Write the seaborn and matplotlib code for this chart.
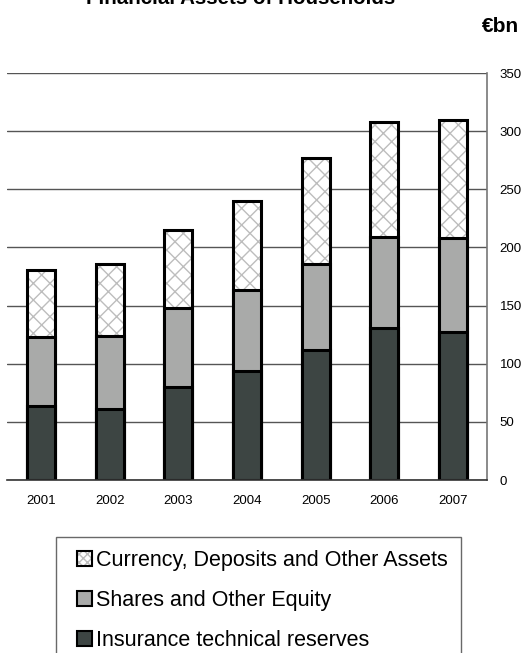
import matplotlib
matplotlib.use("Agg")
import matplotlib.pyplot as plt
from matplotlib.patches import Patch, Rectangle
from matplotlib.legend_handler import HandlerPatch
import numpy as np
import pandas as pd
import seaborn as sns

# Financial Assets of Households, €bn
years = ["2001", "2002", "2003", "2004", "2005", "2006", "2007"]
insurance = [64, 61, 80, 94, 112, 131, 127]
shares = [59, 63, 68, 69, 74, 78, 81]
currency = [58, 62, 67, 77, 91, 99, 102]
labels = ["Currency, Deposits and Other Assets",
          "Shares and Other Equity",
          "Insurance technical reserves"]

sns.set_style("white")
plt.rcParams["font.family"] = ["Liberation Sans", "DejaVu Sans"]
plt.rcParams["hatch.linewidth"] = 1.0
plt.rcParams["text.color"] = "black"
plt.rcParams["xtick.color"] = "black"
plt.rcParams["ytick.color"] = "black"

dark = "#3d4543"
mid = "#a9aaa9"
hatch_grey = "#bdbdbd"

df = pd.DataFrame({"year": years, "insurance": insurance,
                   "shares": shares, "currency": currency})
df["lvl2"] = df["insurance"] + df["shares"]
df["total"] = df["lvl2"] + df["currency"]

fig = plt.figure(figsize=(5.29, 6.53), dpi=100)
ax = fig.add_axes([0.0132, 0.2649, 0.9074, 0.6233])

# gridlines behind bars
ax.set_axisbelow(True)
ax.yaxis.grid(True, color="#555555", linewidth=1.0)

# stacked bars: cumulative totals drawn largest first
sns.barplot(data=df, x="year", y="total", color="white", width=0.41,
            edgecolor=hatch_grey, linewidth=0, saturation=1, ax=ax)
for p in ax.patches:
    p.set_hatch("xx")
sns.barplot(data=df, x="year", y="total", color="black", width=0.41,
            fill=False, linewidth=2.2, ax=ax)
sns.barplot(data=df, x="year", y="lvl2", color=mid, width=0.41,
            edgecolor="black", linewidth=2.2, saturation=1, ax=ax)
sns.barplot(data=df, x="year", y="insurance", color=dark, width=0.41,
            edgecolor="black", linewidth=2.2, saturation=1, ax=ax)

ax.set_ylim(0, 350)
ax.set_xlim(-0.5, 6.5)
ax.set_yticks(np.arange(0, 351, 50))
ax.yaxis.tick_right()
ax.tick_params(axis="y", length=0, pad=9, labelsize=9.5, labelcolor="black")
ax.tick_params(axis="x", length=0, pad=11, labelsize=9.5, labelcolor="black")
for lbl in ax.get_yticklabels():
    lbl.set_horizontalalignment("left")
ax.set_xlabel("")
ax.set_ylabel("")

for side in ["left", "top"]:
    ax.spines[side].set_visible(False)
ax.spines["right"].set_color("#777777")
ax.spines["right"].set_linewidth(1.2)
ax.spines["bottom"].set_color("#333333")
ax.spines["bottom"].set_linewidth(1.2)

fig.text(0.455, 1.003, "Financial Assets of Households", ha="center",
         va="center", fontsize=14.8, fontweight="bold")
fig.text(0.947, 0.960, "€bn", ha="center", va="center",
         fontsize=15, fontweight="bold")


def shifted_box(legend, orig_handle, xdescent, ydescent, width, height, fontsize):
    # nudge the legend swatch right a little, like the original
    return Rectangle((-xdescent + 6, -ydescent), width, height)


handles = [
    (Patch(facecolor="white", edgecolor=hatch_grey, hatch="xxxx", linewidth=0),
     Patch(fill=False, edgecolor="black", linewidth=1.5)),
    Patch(facecolor=mid, edgecolor="black", linewidth=1.5),
    Patch(facecolor=dark, edgecolor="black", linewidth=1.5),
]
leg = fig.legend(handles, labels, loc="upper left",
                 bbox_to_anchor=(0.106, 0.1776), borderaxespad=0,
                 fontsize=15.5, frameon=True, fancybox=False,
                 handlelength=0.7, handleheight=0.7, handletextpad=0.55,
                 labelspacing=0.89, borderpad=0.6,
                 handler_map={Patch: HandlerPatch(patch_func=shifted_box)})
leg.get_frame().set_edgecolor("#444444")
leg.get_frame().set_linewidth(1.0)

fig.savefig("out.png", dpi=100)
